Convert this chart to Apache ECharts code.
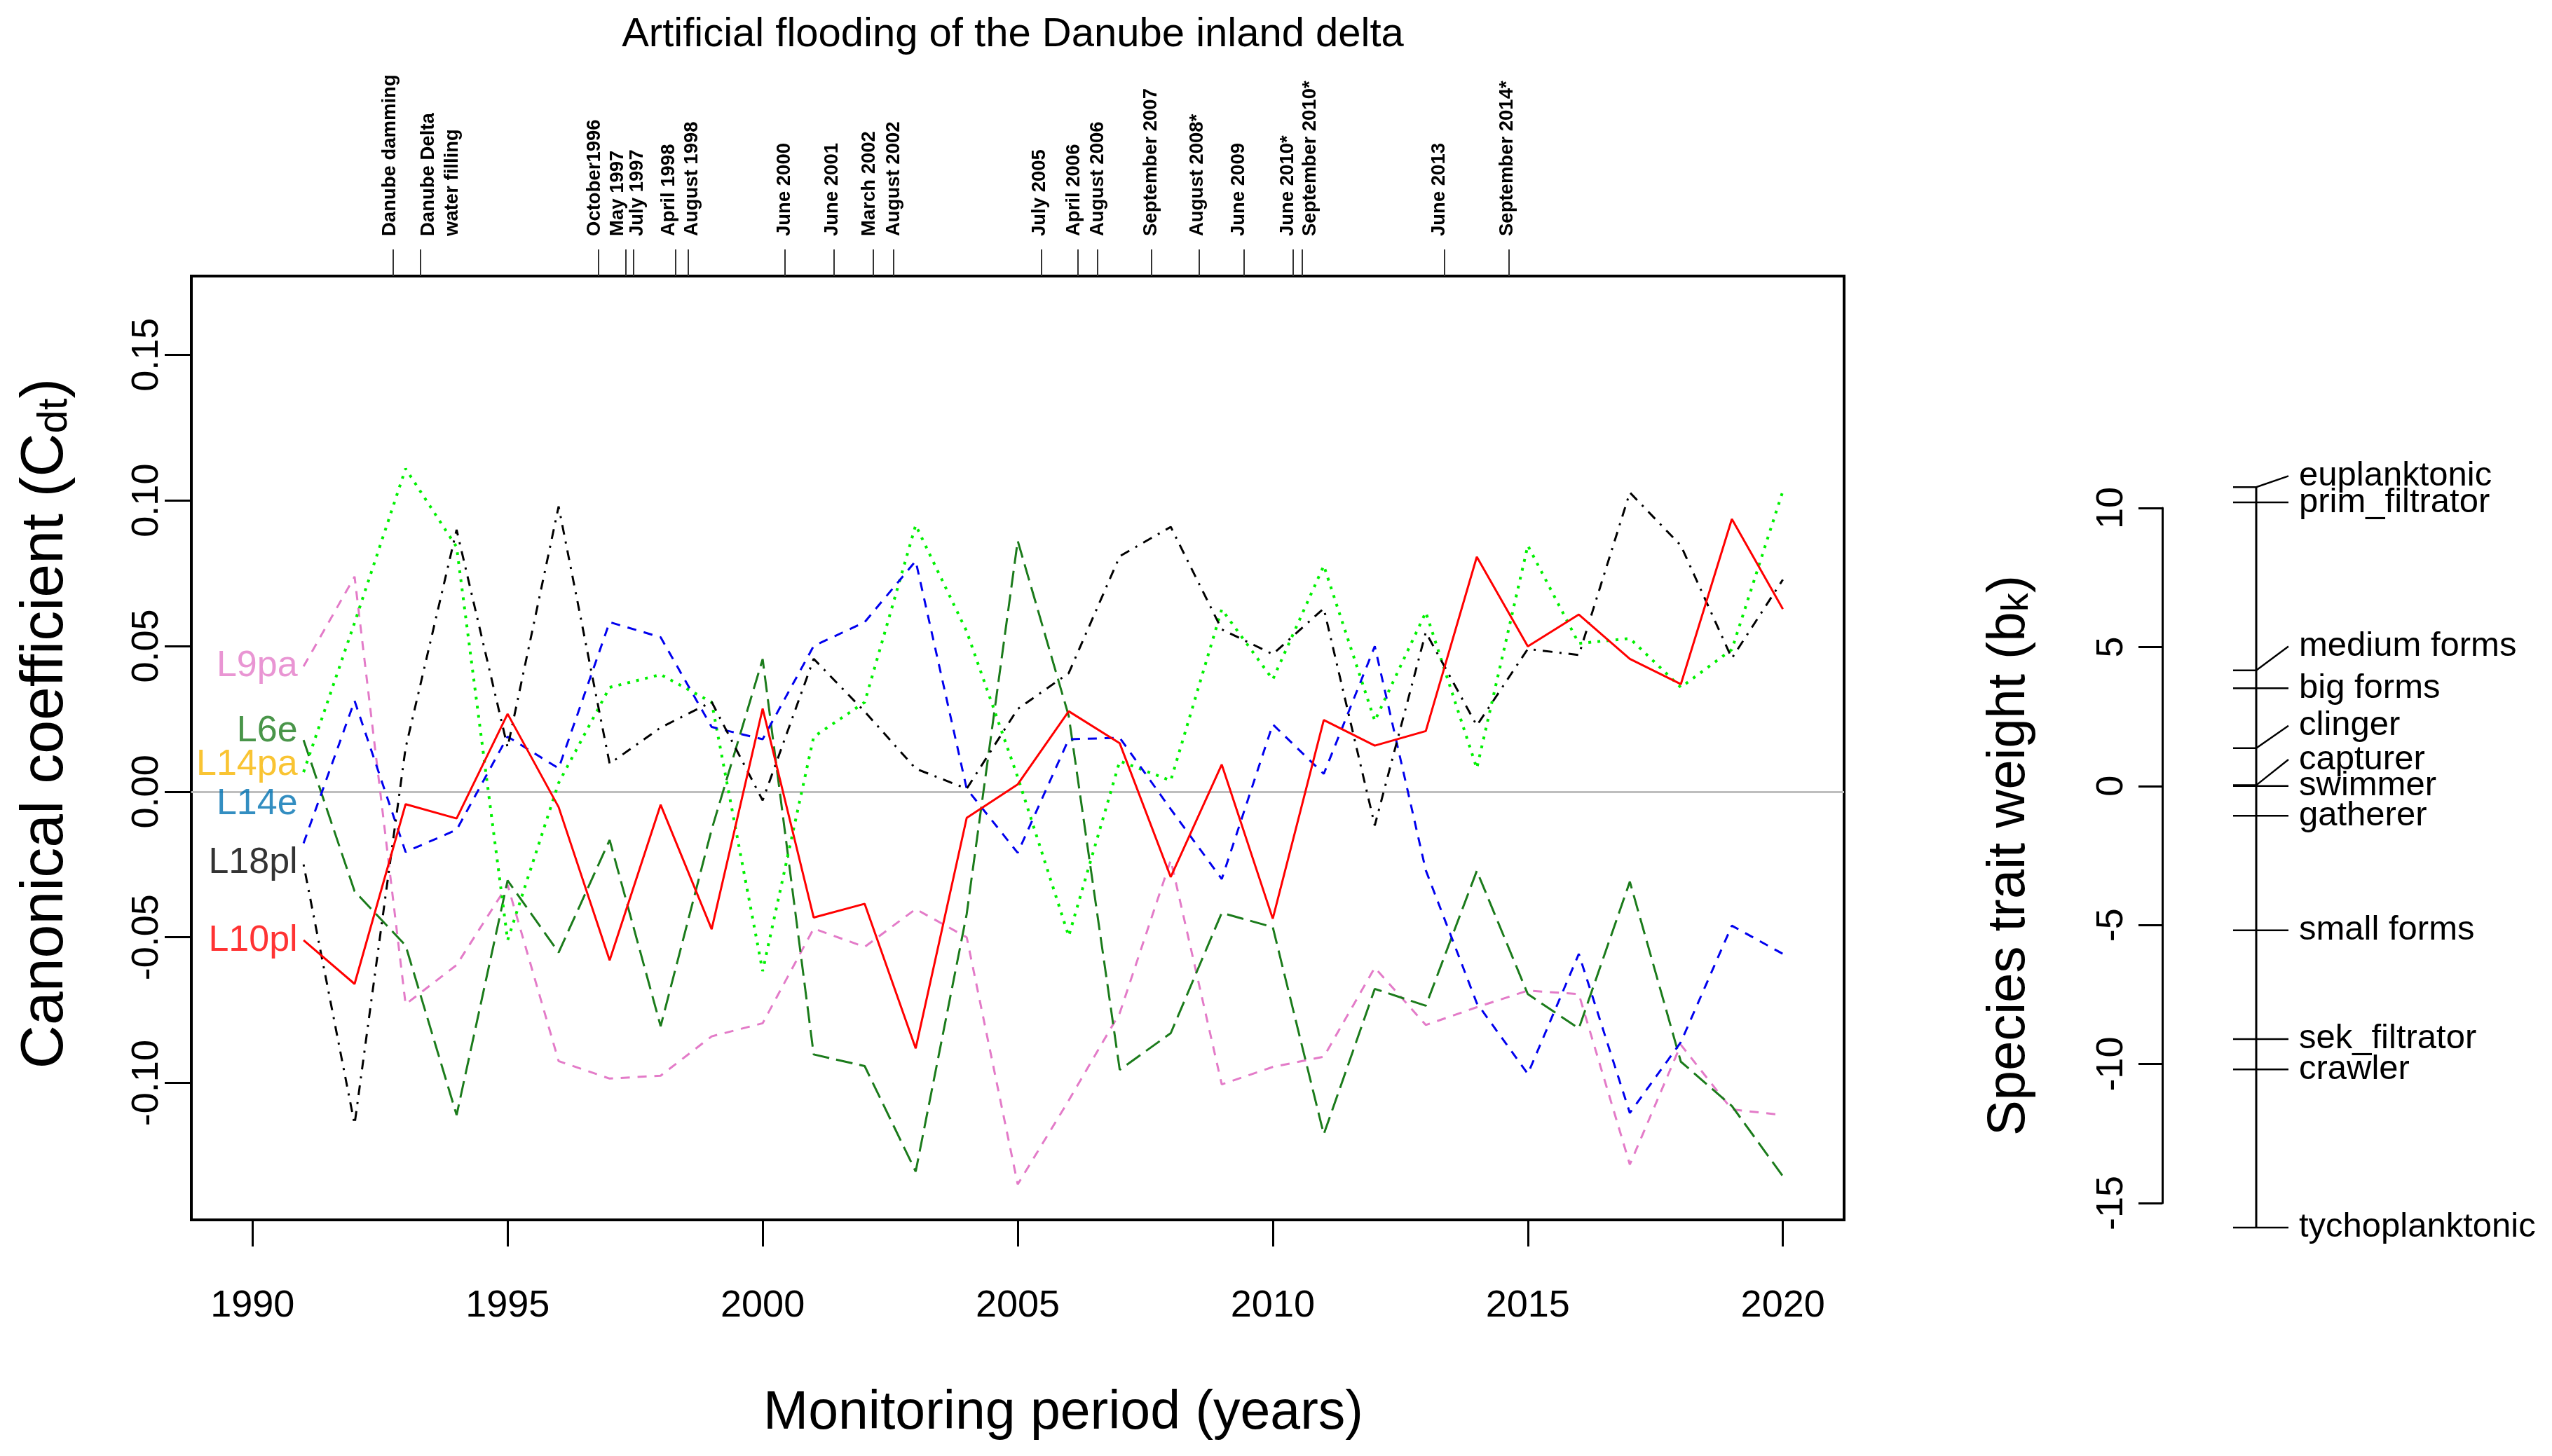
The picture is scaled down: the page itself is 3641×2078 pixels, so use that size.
<!DOCTYPE html>
<html>
<head>
<meta charset="utf-8">
<script src="https://cdn.jsdelivr.net/npm/echarts@6.0.0/dist/echarts.min.js"></script>
<style>
html,body{margin:0;padding:0;background:#ffffff;}
#c{width:3641px;height:2078px;}
</style>
</head>
<body>
<div id="c"></div>
<script>
// ---------------- data ----------------
const years = [1991,1992,1993,1994,1995,1996,1997,1998,1999,2000,2001,2002,2003,2004,2005,2006,2007,2008,2009,2010,2011,2012,2013,2014,2015,2016,2017,2018,2019,2020];

const L9pa  = [0.043,0.0738,-0.073,-0.0595,-0.032,-0.0925,-0.0985,-0.0975,-0.084,-0.0795,-0.047,-0.0533,-0.0403,-0.050,-0.1348,-0.106,-0.076,-0.0235,-0.1005,-0.0945,-0.091,-0.0604,-0.0801,-0.074,-0.0683,-0.0695,-0.128,-0.0869,-0.1091,-0.111];
const L6e   = [0.0177,-0.0342,-0.0528,-0.111,-0.0305,-0.0552,-0.0166,-0.0805,-0.013,0.0455,-0.0902,-0.0942,-0.1304,-0.042,0.0861,0.026,-0.0955,-0.0829,-0.0416,-0.0465,-0.1176,-0.0677,-0.0735,-0.0272,-0.0695,-0.0813,-0.0309,-0.0927,-0.1079,-0.132];
const L14pa = [0.0067,0.058,0.1109,0.084,-0.051,0.003,0.0358,0.0402,0.0307,-0.0616,0.0188,0.0307,0.0915,0.055,0.005,-0.0496,0.0105,0.0038,0.0626,0.0385,0.0776,0.0243,0.0616,0.008,0.0845,0.0509,0.0526,0.0358,0.0488,0.1032];
const L14e  = [-0.0177,0.0312,-0.0207,-0.0131,0.0189,0.008,0.0582,0.053,0.0222,0.018,0.050,0.0582,0.0792,0.001,-0.021,0.018,0.0185,-0.006,-0.030,0.0231,0.0061,0.0499,-0.027,-0.0726,-0.0969,-0.0557,-0.1103,-0.086,-0.046,-0.0557];
const L18pl = [-0.025,-0.1142,0.015,0.0899,0.0152,0.0979,0.0096,0.022,0.0308,-0.003,0.0456,0.0275,0.0079,0.001,0.0284,0.0407,0.0808,0.0909,0.0557,0.0472,0.0629,-0.0116,0.0547,0.0227,0.049,0.0469,0.1027,0.0845,0.0458,0.0728];
const L10pl = [-0.051,-0.066,-0.0043,-0.0092,0.0267,-0.0053,-0.0579,-0.0045,-0.0472,0.0285,-0.0432,-0.0385,-0.0881,-0.009,0.0025,0.0276,0.0166,-0.0293,0.0093,-0.0436,0.0246,0.0158,0.0208,0.0806,0.0499,0.0608,0.0456,0.0369,0.0936,0.0627];

const seriesNames = ['L9pa','L6e','L14pa','L14e','L18pl','L10pl'];
const seriesLabelY = [0.043,0.0208,0.0091,-0.0043,-0.0244,-0.0511];

const xTicks = [1990,1995,2000,2005,2010,2015,2020];
const yTicks = [-0.10,-0.05,0.00,0.05,0.10,0.15];

const eventDates = [1992.76,1993.29,1996.78,1997.31,1997.47,1998.29,1998.54,2000.43,2001.39,2002.17,2002.56,2005.46,2006.18,2006.56,2007.62,2008.56,2009.43,2010.40,2010.58,2013.37,2014.63];
const eventLabelPos = [1992.69,1993.68,1996.70,1997.16,1997.55,1998.16,1998.61,2000.43,2001.37,2002.09,2002.57,2005.43,2006.10,2006.57,2007.61,2008.53,2009.34,2010.30,2010.74,2013.26,2014.59];
const eventLabels = ['Danube damming','Danube Delta\nwater filling','October1996','May 1997','July 1997','April 1998','August 1998','June 2000','June 2001','March 2002','August 2002','July 2005','April 2006','August 2006','September 2007','August 2008*','June 2009','June 2010*','September 2010*','June 2013','September 2014*'];

const traitNames = ['euplanktonic','prim_filtrator','medium forms','big forms','clinger','capturer','swimmer','gatherer','small forms','sek_filtrator','crawler','tychoplanktonic'];
const traitValues = [10.75,10.2,4.16,3.52,1.36,0.03,0.0,-1.07,-5.19,-9.1,-10.19,-15.88];
const traitLabelPos = [11.15,10.2,5.02,3.52,2.17,0.95,0.0,-1.07,-5.19,-9.1,-10.19,-15.88];
const traitTicks = [-15,-10,-5,0,5,10];

// ---------------- styles ----------------
const FONT = "'Liberation Sans', Arial, Helvetica, sans-serif";
const styles = {
  L9pa:  {color:'#E37BC8', label:'#E37BC8', dash:[13,11], width:3},
  L6e:   {color:'#1B7B1B', label:'#1B7B1B', dash:[24,10], width:3},
  L14pa: {color:'#00F000', label:'#F7B500', dash:[4,9], width:4},
  L14e:  {color:'#0000EE', label:'#0072B2', dash:[13,11], width:3},
  L18pl: {color:'#000000', label:'#000000', dash:[3,10,14,10], width:3},
  L10pl: {color:'#FF0000', label:'#FF0000', dash:'solid', width:3}
};
const seriesData = {L9pa, L6e, L14pa, L14e, L18pl, L10pl};

// right panel layout (pixel offsets inside grid 1)
const X_TICK_L = 101, X_LINE = 134, X_CONN = 180, X_TEXT = 195;

const chart = echarts.init(document.getElementById('c'), null, {renderer:'canvas'});

const lineSeries = seriesNames.map(n => ({
  type:'line', name:n, xAxisIndex:0, yAxisIndex:0,
  data: years.map((y,i)=>[y, seriesData[n][i]]),
  symbol:'none', silent:true, z:3,
  lineStyle:{color:styles[n].color, width:styles[n].width, type:styles[n].dash, cap:'butt'}
}));

// zero reference line
lineSeries[0].markLine = {
  silent:true, symbol:'none', z:1, animation:false,
  label:{show:false},
  lineStyle:{color:'#BEBEBE', width:3, type:'solid'},
  data:[{yAxis:0}]
};

const labelSeries = {
  type:'scatter', xAxisIndex:0, yAxisIndex:0, silent:true, z:4,
  symbolSize:1, itemStyle:{color:'rgba(0,0,0,0)'},
  data: seriesNames.map((n,i)=>({
    value:[years[0], seriesLabelY[i]],
    label:{show:true, position:'left', distance:8, formatter:n, color:styles[n].label, fontSize:52, fontFamily:FONT}
  }))
};

const traitLine = {
  type:'line', xAxisIndex:2, yAxisIndex:1, silent:true, clip:false, symbol:'none',
  data:[[X_LINE, Math.min(...traitValues)],[X_LINE, Math.max(...traitValues)]],
  lineStyle:{color:'#000', width:3}
};

const traitSeries = {
  type:'custom', xAxisIndex:2, yAxisIndex:1, silent:true, clip:false,
  data: traitNames.map((n,i)=>[traitValues[i], traitLabelPos[i], i]),
  renderItem:(params, api)=>{
    const v = api.value(0), lp = api.value(1), idx = api.value(2);
    const pL = api.coord([X_TICK_L, v]);
    const pM = api.coord([X_LINE, v]);
    const pE = api.coord([X_CONN, lp]);
    const pT = api.coord([X_TEXT, lp]);
    return {type:'group', children:[
      {type:'polyline', shape:{points:[pL,pM,pE]}, style:{stroke:'#000', lineWidth:2.5, fill:null}},
      {type:'text', x:pT[0], y:pT[1], style:{text:traitNames[idx], fontSize:49, fontFamily:FONT, fill:'#000', align:'left', verticalAlign:'middle'}}
    ]};
  }
};

function eventFormatter(v){
  let bi=0, bd=1e9;
  eventLabelPos.forEach((d,i)=>{const dd=Math.abs(d-v); if(dd<bd){bd=dd;bi=i;}});
  return eventLabels[bi];
}

const option = {
  animation:false,
  backgroundColor:'#ffffff',
  textStyle:{fontFamily:FONT, color:'#000'},
  graphic:[{
    type:'text', x:1445, y:50, silent:true,
    style:{text:'Artificial flooding of the Danube inland delta', fontSize:58, fontFamily:FONT, fill:'#000', align:'center', verticalAlign:'middle'}
  }],
  grid:[
    {left:273, top:394, width:2358, height:1347, show:true, borderColor:'#000', borderWidth:4, backgroundColor:'rgba(0,0,0,0)', containLabel:false, outerBoundsMode:'none'},
    {left:3085, top:725, width:500, height:992, show:false, containLabel:false, outerBoundsMode:'none'}
  ],
  xAxis:[
    {gridIndex:0, type:'value', min:1988.8, max:2021.2, position:'bottom',
     axisLine:{show:false, onZero:false}, splitLine:{show:false},
     axisTick:{show:true, customValues:xTicks, length:38, lineStyle:{color:'#000', width:3}},
     axisLabel:{show:true, customValues:xTicks, fontSize:54, color:'#000', margin:96, fontFamily:FONT, formatter:v=>String(Math.round(v)), showMinLabel:true, showMaxLabel:true},
     name:'Monitoring period (years)', nameLocation:'middle', nameGap:238,
     nameTextStyle:{fontSize:77, color:'#000', fontFamily:FONT, padding:[0,0,0,130]}},
    {gridIndex:0, type:'value', min:1988.8, max:2021.2, position:'top',
     axisLine:{show:false, onZero:false}, splitLine:{show:false},
     axisTick:{show:true, customValues:eventDates, length:38, lineStyle:{color:'#333', width:2}},
     axisLabel:{show:false}},
    {gridIndex:1, type:'value', min:0, max:500, show:false},
    {gridIndex:0, type:'value', min:1988.8, max:2021.2, position:'top',
     axisLine:{show:false, onZero:false}, splitLine:{show:false},
     axisTick:{show:false},
     axisLabel:{show:true, customValues:eventLabelPos, rotate:-90, fontSize:27.5, fontWeight:'bold', lineHeight:34, margin:57, color:'#000', fontFamily:FONT, formatter:eventFormatter, showMinLabel:true, showMaxLabel:true, hideOverlap:false}}
  ],
  yAxis:[
    {gridIndex:0, type:'value', min:-0.147, max:0.177,
     axisLine:{show:false, onZero:false}, splitLine:{show:false},
     axisTick:{show:true, customValues:yTicks, length:38, lineStyle:{color:'#000', width:3}},
     axisLabel:{show:true, customValues:yTicks, rotate:90, fontSize:54, margin:36, color:'#000', fontFamily:FONT, formatter:v=>v.toFixed(2), showMinLabel:true, showMaxLabel:true},
     name:'Canonical coefficient (C{sub|dt})', nameLocation:'middle', nameGap:165, nameRotate:90,
     nameTextStyle:{fontSize:86, color:'#000', fontFamily:FONT, padding:[0,0,0,70], rich:{sub:{fontSize:60, fontFamily:FONT, color:'#000', verticalAlign:'bottom'}}}},
    {gridIndex:1, type:'value', min:-15, max:10, interval:5,
     axisLine:{show:true, onZero:false, lineStyle:{color:'#000', width:3}}, splitLine:{show:false},
     axisTick:{show:true, length:34, lineStyle:{color:'#000', width:3}},
     axisLabel:{show:true, rotate:90, fontSize:54, margin:45, color:'#000', fontFamily:FONT, showMinLabel:true, showMaxLabel:true},
     name:'Species trait weight (b{sub|k})', nameLocation:'middle', nameGap:180, nameRotate:90,
     nameTextStyle:{fontSize:76, color:'#000', fontFamily:FONT, rich:{sub:{fontSize:54, fontFamily:FONT, color:'#000', verticalAlign:'bottom'}}}}
  ],
  series:[...lineSeries, labelSeries, traitLine, traitSeries]
};

chart.setOption(option);
</script>
</body>
</html>
